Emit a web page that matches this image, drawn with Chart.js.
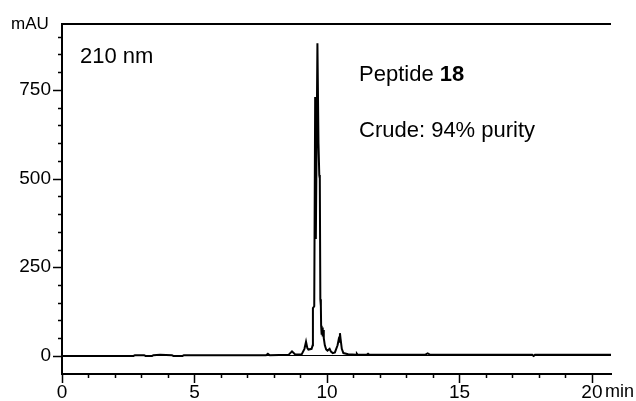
<!DOCTYPE html>
<html>
<head>
<meta charset="utf-8">
<script src="https://cdn.jsdelivr.net/npm/chart.js@4"></script>
<style>
  html, body { margin: 0; padding: 0; background: #fff; }
  #wrap { width: 636px; height: 401px; }
</style>
</head>
<body>
<div id="wrap"><canvas id="hplc" width="636" height="401"></canvas></div>
<script>
// --- Data ---
const timeMin = [0, 2.70, 2.75, 3.10, 3.15, 3.40, 3.45, 3.70, 4.15, 4.20, 4.55, 4.60,
  7.70, 7.77, 7.84, 8.55, 8.68, 8.80, 9.05, 9.15, 9.21, 9.26, 9.30, 9.42, 9.46, 9.47, 9.52,
  9.555, 9.58, 9.64, 9.68, 9.71, 9.73, 9.75, 9.77, 9.78, 9.80, 9.82, 9.84, 9.86, 9.88, 9.92,
  9.97, 10.02, 10.10, 10.15, 10.22, 10.30, 10.40, 10.44, 10.46, 10.49, 10.51, 10.56, 10.62,
  10.80, 11.10, 11.13, 11.16, 11.50, 11.55, 11.60, 13.70, 13.80, 13.90, 17.75, 17.80, 17.85, 20.72];
const signalMAU = [0, 0, 2, 2, 0, 0, 2, 3, 2, 0, 0, 2,
  2, 6, 2, 3, 13, 4, 5, 20, 40, 22, 18, 20, 30, 135, 140,
  730, 330, 882, 600, 510, 500, 160, 140, 85, 60, 80, 55, 73, 50, 30,
  18, 15, 20, 12, 8, 10, 30, 45, 40, 64, 50, 20, 8,
  5, 3, 6, 3, 3, 6, 3, 3, 7, 3, 3, 0, 3, 3];

const xMajor = [0, 5, 10, 15, 20];
const yMajor = [0, 250, 500, 750];
const xMinorStep = 1;
const yMinorStep = 50;

const FONT = "'Liberation Sans', Arial, Helvetica, sans-serif";
Chart.defaults.font.family = FONT;
Chart.defaults.color = '#000';

const points = timeMin.map((t, i) => ({ x: t, y: signalMAU[i] }));

// tick marks + frame + annotation text
const decorPlugin = {
    id: 'decor',
    afterDraw(chart) {
        const { ctx, chartArea: a, scales: { x, y } } = chart;
        ctx.save();
        ctx.strokeStyle = '#000';
        ctx.lineWidth = 1.5;
        ctx.beginPath();
        for (let v = 0; v <= 20; v += xMinorStep) {
            const px = Math.round(x.getPixelForValue(v)) + 0.5;
            const len = xMajor.includes(v) ? 9 : 4;
            ctx.moveTo(px, a.bottom); ctx.lineTo(px, a.bottom + len);
        }
        for (let v = 0; v <= 900; v += yMinorStep) {
            const py = Math.round(y.getPixelForValue(v)) + 0.5;
            const len = yMajor.includes(v) ? 9 : 4;
            ctx.moveTo(a.left, py); ctx.lineTo(a.left - len, py);
        }
        ctx.stroke();

        // top frame line
        ctx.lineWidth = 2;
        ctx.beginPath();
        ctx.moveTo(a.left - 1, a.top); ctx.lineTo(a.right, a.top);
        ctx.stroke();

        ctx.fillStyle = '#000';
        ctx.textBaseline = 'alphabetic';
        ctx.textAlign = 'left';
        ctx.font = `17px ${FONT}`;
        ctx.fillText('mAU', 11, 29);
        ctx.font = `18px ${FONT}`;
        ctx.fillText('min', 605, 397);

        ctx.font = `22px ${FONT}`;
        ctx.fillText('210 nm', 80, 63);
        ctx.fillText('Peptide ', 359, 81);
        const w = ctx.measureText('Peptide ').width;
        ctx.font = `bold 22px ${FONT}`;
        ctx.fillText('18', 359 + w, 81);
        ctx.font = `22px ${FONT}`;
        ctx.fillText('Crude: 94% purity', 359, 137);
        ctx.restore();
    }
};

new Chart(document.getElementById('hplc').getContext('2d'), {
    type: 'line',
    data: {
        datasets: [{
            data: points,
            borderColor: '#000',
            borderWidth: 2,
            pointRadius: 0,
            tension: 0,
            fill: false
        }]
    },
    options: {
        responsive: false,
        animation: false,
        devicePixelRatio: 1,
        layout: { padding: { top: 24, right: 25, left: 0, bottom: 0 } },
        plugins: { legend: { display: false }, tooltip: { enabled: false } },
        scales: {
            x: {
                type: 'linear', min: 0, max: 20.72,
                afterBuildTicks: s => { s.ticks = xMajor.map(v => ({ value: v })); },
                afterFit: s => { s.height = 27; },
                ticks: { autoSkip: false, maxRotation: 0, padding: -2, font: { size: 19 }, color: '#000' },
                grid: { display: true, drawOnChartArea: false, drawTicks: true, tickLength: 9, tickColor: 'rgba(0,0,0,0)' },
                border: { display: true, color: '#000', width: 2 }
            },
            y: {
                type: 'linear', min: -51, max: 936,
                afterBuildTicks: s => { s.ticks = yMajor.map(v => ({ value: v })); },
                afterFit: s => { s.width = 62; },
                ticks: { padding: 2, font: { size: 19 }, color: '#000' },
                grid: {
                    display: true, drawOnChartArea: true, drawTicks: true, tickLength: 9,
                    tickColor: 'rgba(0,0,0,0)', lineWidth: 1,
                    color: c => (c.tick && c.tick.value === 0) ? '#000' : 'rgba(0,0,0,0)'
                },
                border: { display: true, color: '#000', width: 2 }
            }
        }
    },
    plugins: [decorPlugin]
});
</script>
</body>
</html>
